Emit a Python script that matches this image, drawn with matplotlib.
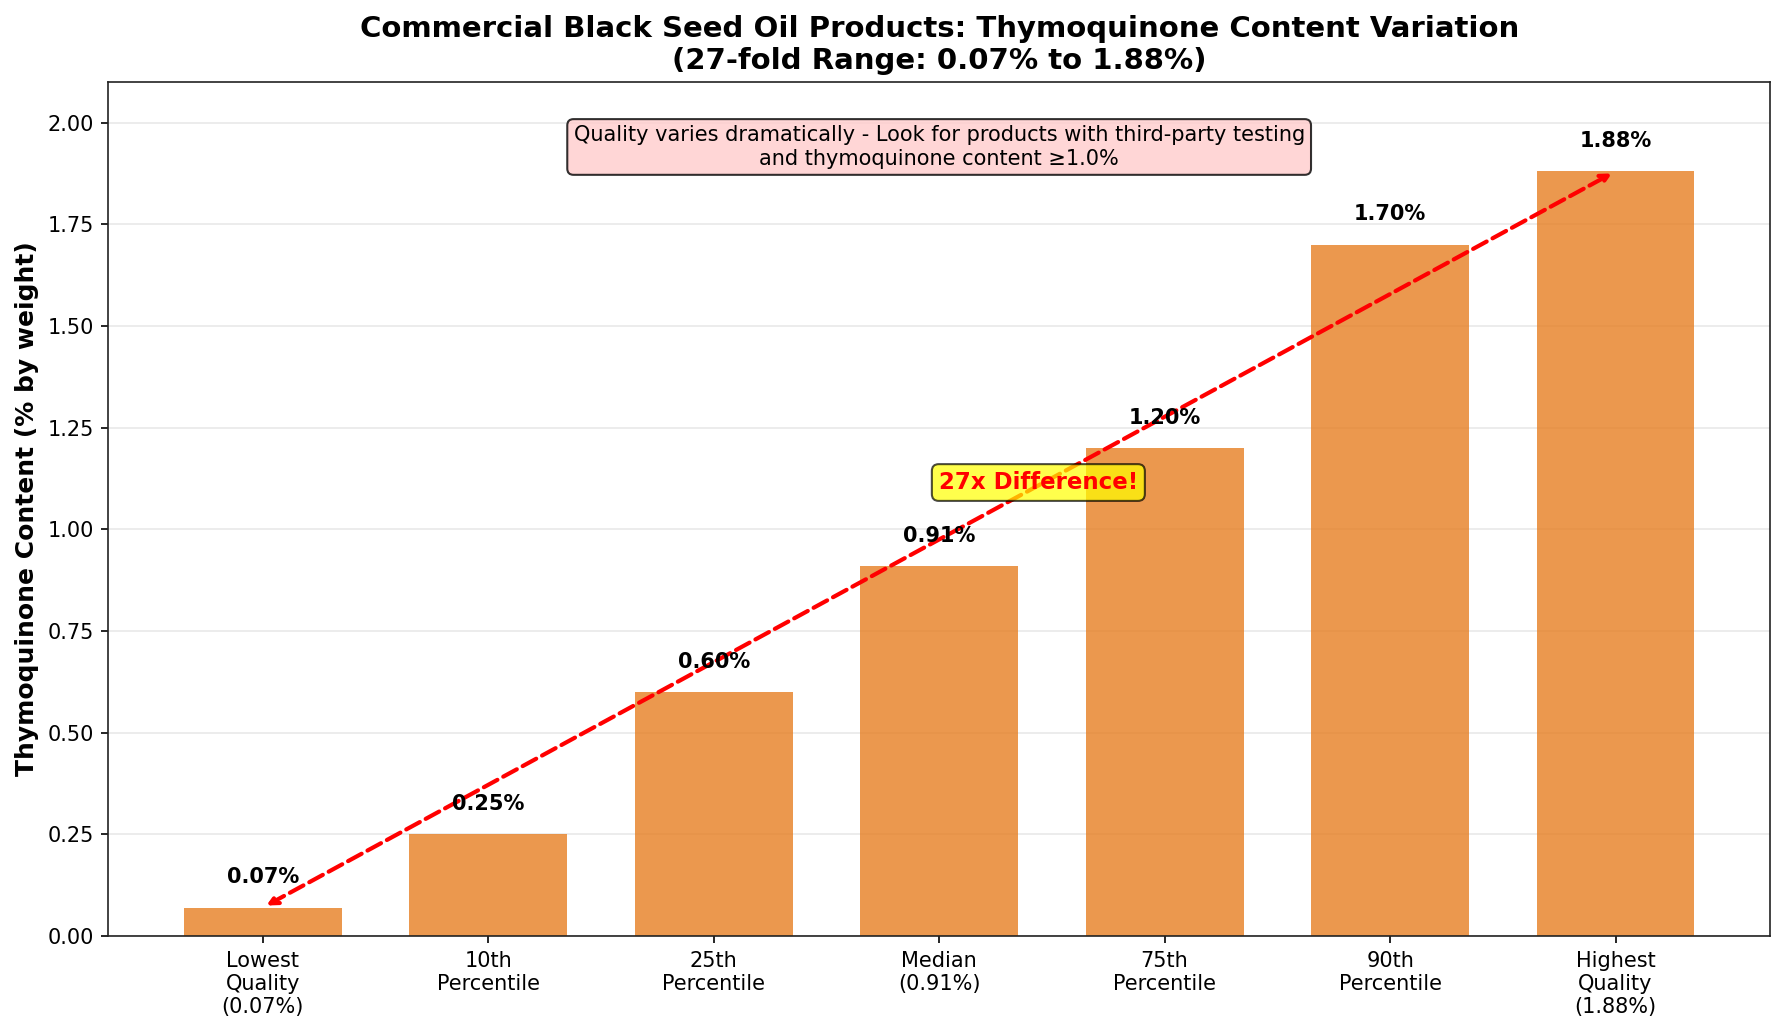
import matplotlib
matplotlib.use("Agg")
import matplotlib.pyplot as plt
import numpy as np

# Thymoquinone content by quality tier (% by weight)
categories = ["Lowest\nQuality\n(0.07%)", "10th\nPercentile", "25th\nPercentile",
              "Median\n(0.91%)", "75th\nPercentile", "90th\nPercentile",
              "Highest\nQuality\n(1.88%)"]
values = [0.07, 0.25, 0.60, 0.91, 1.20, 1.70, 1.88]

fig, ax = plt.subplots(figsize=(12, 6.98), dpi=150)

x = np.arange(len(categories))
bars = ax.bar(x, values, width=0.7, color="#E67E22", alpha=0.8, zorder=2)

# value labels above bars
for xi, v in zip(x, values):
    ax.text(xi, v + 0.05, f"{v:.2f}%", ha="center", va="bottom",
            fontsize=10, fontweight="bold", zorder=4)

ax.set_xticks(x)
ax.set_xticklabels(categories, fontsize=10)
ax.tick_params(axis="y", labelsize=10)
ax.set_ylim(0, 2.1)
ax.set_ylabel("Thymoquinone Content (% by weight)", fontsize=12, fontweight="bold")
ax.set_title("Commercial Black Seed Oil Products: Thymoquinone Content Variation\n"
             "(27-fold Range: 0.07% to 1.88%)", fontsize=14, fontweight="bold")
ax.grid(axis="y", color="lightgray", alpha=0.5, zorder=0)
for sp in ax.spines.values():
    sp.set_color("#222222")

# range arrow between lowest and highest
ax.annotate("", xy=(x[-1], values[-1]), xytext=(x[0], values[0]),
            arrowprops=dict(arrowstyle="<->", color="red", lw=2, ls="--"),
            zorder=3)
ax.text(3.44, 1.115, "27x Difference!", ha="center", va="center", fontsize=11,
        fontweight="bold", color="red", zorder=5,
        bbox=dict(boxstyle="round,pad=0.3", facecolor="yellow", alpha=0.7,
                  edgecolor="black"))

ax.text(3, 1.94, "Quality varies dramatically - Look for products with third-party testing\n"
        "and thymoquinone content \u22651.0%",
        ha="center", va="center", fontsize=10, zorder=5,
        bbox=dict(boxstyle="round,pad=0.3", facecolor="#FFCCCC", alpha=0.8,
                  edgecolor="black"))

plt.tight_layout()
plt.savefig("out.png", dpi=150, bbox_inches="tight")
